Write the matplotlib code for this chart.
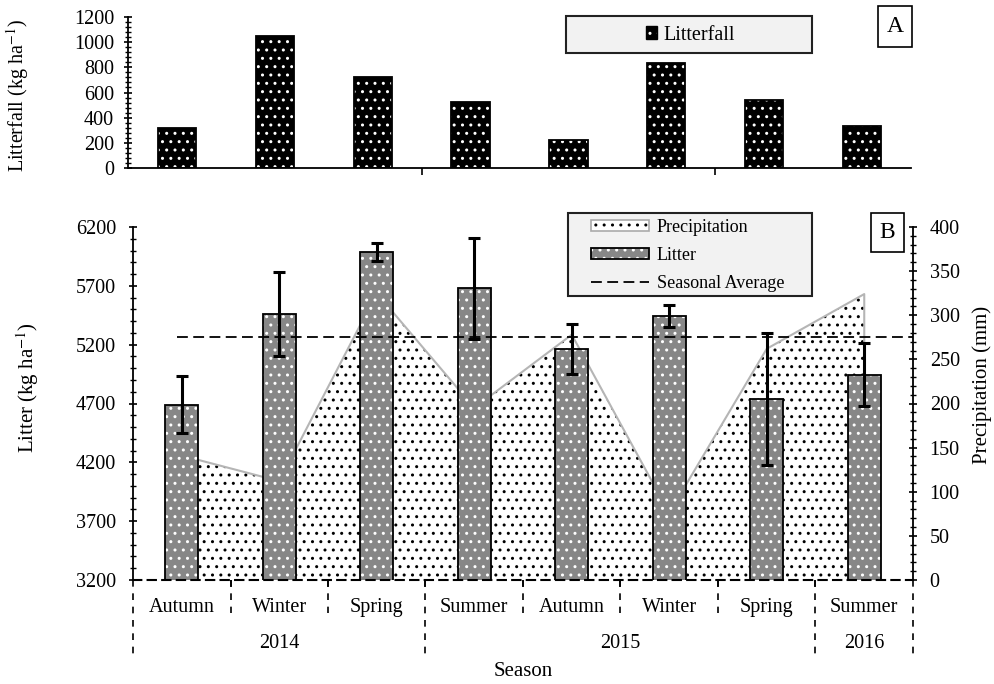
import matplotlib
matplotlib.use("Agg")
import matplotlib.pyplot as plt
import matplotlib.transforms as mtransforms
from matplotlib.patches import Patch, Rectangle
from matplotlib.lines import Line2D
from matplotlib.ticker import MultipleLocator
import numpy as np

plt.rcParams['font.family'] = 'Liberation Serif'
plt.rcParams['mathtext.fontset'] = 'stix'
plt.rcParams['hatch.linewidth'] = 1.0

seasons = ["Autumn", "Winter", "Spring", "Summer", "Autumn", "Winter", "Spring", "Summer"]
years = ["2014", "2015", "2016"]
year_len = [3, 4, 1]  # seasons per year

litterfall = [320, 1045, 720, 527, 224, 831, 543, 335]        # kg ha-1
litter = [4690, 5460, 5990, 5680, 5160, 5445, 4735, 4945]     # kg ha-1
litter_err = [240, 358, 77, 430, 213, 95, 560, 268]
precip = [141, 112, 325, 195, 278, 76, 262, 324]               # mm
litter_ticks = [3200, 3700, 4200, 4700, 5200, 5700, 6200]

W, H = 995, 684
fig = plt.figure(figsize=(W / 100, H / 100), dpi=100)


def px_rect(x0, y0, x1, y1):
    return [x0 / W, 1 - y1 / H, (x1 - x0) / W, (y1 - y0) / H]


def fx(x):
    return x / W


def fy(y):
    return 1 - y / H


x = np.arange(len(seasons))
litter_gray = '#878787'


def dotted_bar(ax, xs, h, width, face, dots, z=2):
    ax.bar(xs, h, width, color=face, edgecolor=dots, hatch='..', linewidth=0, zorder=z)
    ax.bar(xs, h, width, facecolor='none', edgecolor='black', linewidth=1.3, zorder=z + 0.1)


# ---- panel A: litterfall ----
axA = fig.add_axes(px_rect(128, 16.7, 911, 168.3))
dotted_bar(axA, x, litterfall, 0.39, 'black', 'white')
axA.set_xlim(-0.5, 7.5)
axA.set_ylim(0, 1200)
axA.yaxis.set_major_locator(MultipleLocator(200))
axA.yaxis.set_minor_locator(MultipleLocator(40))
axA.set_xticks([2.5, 5.5])
axA.set_xticklabels([])
axA.tick_params(axis='x', direction='out', length=5, width=1.2)
axA.tick_params(axis='y', which='major', direction='inout', length=6, width=1.2, labelsize=14.5, pad=7)
axA.tick_params(axis='y', which='minor', direction='inout', length=4, width=1)
for s in ['top', 'right']:
    axA.spines[s].set_visible(False)
for s in ['left', 'bottom']:
    axA.spines[s].set_linewidth(1.3)

# ---- panel B: precipitation (right) and litter (left) ----
axP = fig.add_axes(px_rect(133, 227, 913, 580))
axL = axP.twinx()
axP.yaxis.tick_right()
axL.yaxis.tick_left()

xs_edge = np.r_[x[0], x, x[-1]]
ys_edge = np.r_[0, precip, 0]
axP.fill_between(x, 0, precip, facecolor='white', edgecolor='black', hatch='..', linewidth=0, zorder=1)
axP.plot(xs_edge, ys_edge, color='#b5b5b5', lw=1.5, zorder=2)
axP.set_ylim(0, 400)
axP.set_xlim(-0.5, 7.5)
axP.yaxis.set_major_locator(MultipleLocator(50))
axP.yaxis.set_minor_locator(MultipleLocator(10))
axP.tick_params(axis='y', which='major', direction='inout', length=6, width=1.2, labelsize=14.5, pad=9)
axP.tick_params(axis='y', which='minor', direction='inout', length=4, width=1)
for s in ['left', 'top', 'bottom']:
    axP.spines[s].set_visible(False)
axP.spines['right'].set_linewidth(1.3)

bounds = np.arange(len(seasons) + 1) - 0.5
axP.set_xticks(bounds[1:-1])
axP.set_xticklabels([])
axP.tick_params(axis='x', direction='out', length=5, width=1.2)

dotted_bar(axL, x, litter, 0.34, litter_gray, 'white')
axL.errorbar(x, litter, yerr=litter_err, fmt='none', ecolor='black',
             elinewidth=2.2, capsize=4.5, capthick=2.2, zorder=4)
avg = np.mean(litter)
axL.axhline(avg, xmin=0.056, xmax=1, color='black', lw=1.3, ls=(0, (6, 3)), zorder=3)
axL.set_ylim(litter_ticks[0], litter_ticks[-1])
axL.set_xlim(-0.5, 7.5)
axL.set_yticks(litter_ticks)
axL.yaxis.set_minor_locator(MultipleLocator(100))
axL.tick_params(axis='y', which='major', direction='inout', length=6, width=1.2, labelsize=14.5, pad=9)
axL.tick_params(axis='y', which='minor', direction='inout', length=4, width=1)
for s in ['top', 'right']:
    axL.spines[s].set_visible(False)
axL.spines['left'].set_linewidth(1.3)
axL.spines['bottom'].set_linewidth(1.5)
axL.spines['bottom'].set_linestyle((0, (4, 3)))

# season / year labels under the axis
trans = mtransforms.blended_transform_factory(axL.transData, axL.transAxes)
for i, s in enumerate(seasons):
    axL.text(i, -0.079, s, transform=trans, ha='center', va='center', fontsize=14.5)
year_edges = np.r_[0, np.cumsum(year_len)] - 0.5
for k, yr in enumerate(years):
    axL.text((year_edges[k] + year_edges[k + 1]) / 2, -0.181, yr, transform=trans,
             ha='center', va='center', fontsize=14.5)
for b in bounds:
    depth = -0.212 if b in year_edges else -0.093
    axL.plot([b, b], [0, depth], transform=trans, clip_on=False, color='black',
             lw=1.2, ls=(0, (4, 4)))

# axis titles
fig.text(fx(18), fy(95), "Litterfall (kg ha$^{-1}$)", rotation=90, ha='center', va='center', fontsize=14.5)
fig.text(fx(28), fy(388), "Litter (kg ha$^{-1}$)", rotation=90, ha='center', va='center', fontsize=15)
fig.text(fx(982), fy(385), "Precipitation (mm)", rotation=90, ha='center', va='center', fontsize=15)
fig.text(fx(523), fy(672), "Season", ha='center', va='center', fontsize=15)

# legend frames
for (x0, y0, x1, y1) in [(566, 16, 812, 53), (568, 213, 812, 296)]:
    fig.patches.append(Rectangle((fx(x0), fy(y1)), fx(x1 - x0), (y1 - y0) / H,
                                 transform=fig.transFigure, facecolor='#f2f2f2',
                                 edgecolor='#222222', lw=1.5, zorder=4))

hA = (Patch(facecolor='black', edgecolor='white', hatch='..', linewidth=0),
      Patch(facecolor='none', edgecolor='black', linewidth=1.0))
legA = fig.legend([hA], ["Litterfall"], loc='center left', bbox_to_anchor=(fx(646), fy(35)),
                  frameon=False, fontsize=14.5, handlelength=0.55, handleheight=0.6,
                  handletextpad=0.3, borderpad=0, borderaxespad=0)
legA.set_zorder(5)

hP = (Patch(facecolor='white', edgecolor='black', hatch='..', linewidth=0),
      Patch(facecolor='none', edgecolor='#aaaaaa', linewidth=1.2))
hL = (Patch(facecolor=litter_gray, edgecolor='white', hatch='..', linewidth=0),
      Patch(facecolor='none', edgecolor='black', linewidth=1.3))
hS = Line2D([], [], color='black', lw=1.3, ls=(0, (6, 3)))
legB = fig.legend([hP, hL, hS], ["Precipitation", "Litter", "Seasonal Average"],
                  loc='upper left', bbox_to_anchor=(fx(591), fy(219)), frameon=False,
                  fontsize=13, handlelength=3.2, handleheight=0.55, handletextpad=0.45,
                  labelspacing=0.6, borderpad=0, borderaxespad=0)
legB.set_zorder(5)

# panel tags
for tag, (x0, y0, x1, y1) in [("A", (878, 6, 912, 47)), ("B", (871, 213, 904, 252))]:
    fig.patches.append(Rectangle((fx(x0), fy(y1)), fx(x1 - x0), (y1 - y0) / H,
                                 transform=fig.transFigure, facecolor='white',
                                 edgecolor='black', lw=1.2, zorder=4))
    fig.text(fx((x0 + x1) / 2), fy((y0 + y1) / 2), tag, ha='center', va='center',
             fontsize=17, zorder=5)

fig.savefig("out.png", dpi=100)
